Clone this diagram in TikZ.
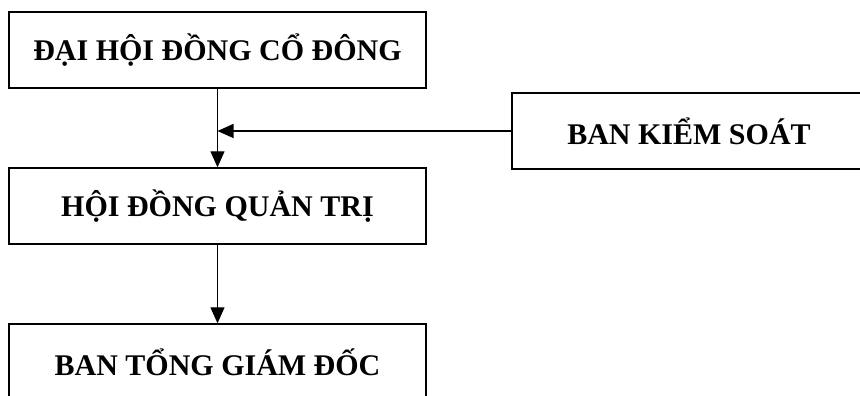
\documentclass[tikz,border=0pt]{standalone}
\usepackage{fontspec}
\setmainfont{Liberation Serif}
\usepackage{tikz}
\usetikzlibrary{arrows.meta}

\tikzset{
	khung/.style={draw, line width=1.4pt, inner sep=0pt, minimum height=76pt,
		font=\fontsize{30}{34}\selectfont\bfseries},
	muiten/.style={line width=1.3pt, -{Triangle[length=16pt,width=14pt]}}
}

\begin{document}
\begin{tikzpicture}[x=1pt,y=1pt]
	\useasboundingbox (0,0) rectangle (860,396);
	\clip (0,0) rectangle (860,396);
	
	\node[khung, minimum width=417pt] (DH) at (217.5,346) {ĐẠI HỘI ĐỒNG CỔ ĐÔNG};
	\node[khung, minimum width=417pt] (HD) at (217.5,190) {HỘI ĐỒNG QUẢN TRỊ};
	\node[khung, minimum width=417pt] (TGD) at (217.5,34) {BAN TỔNG GIÁM ĐỐC};
	\node[khung, minimum width=354pt] (KS) at (689,265) {BAN KIỂM SOÁT};
	
	\coordinate (J) at (217.5,265);
	
	\draw[muiten] (DH) -- (HD);
	\draw[muiten] (HD) -- (TGD);
	\draw[muiten] (KS.west) -- (J);
\end{tikzpicture}
\end{document}
